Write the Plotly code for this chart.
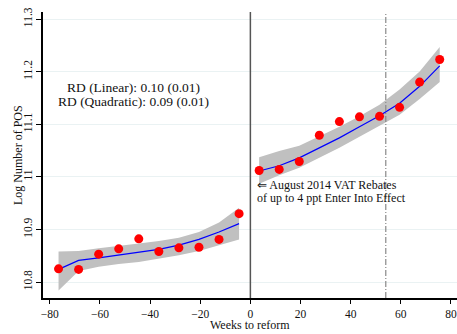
import plotly.graph_objects as go

# Binned means of log POS counts by weeks relative to the reform
weeks_pre = [-76.5, -68.5, -60.5, -52.5, -44.5, -36.5, -28.5, -20.5, -12.5, -4.5]
pos_pre = [10.825, 10.824, 10.853, 10.863, 10.882, 10.858, 10.865, 10.866, 10.881, 10.930]
fit_pre = [10.824, 10.841, 10.846, 10.851, 10.856, 10.862, 10.870, 10.881, 10.895, 10.911]
ci_lo_pre = [10.784, 10.821, 10.829, 10.834, 10.838, 10.844, 10.851, 10.859, 10.870, 10.881]
ci_hi_pre = [10.858, 10.859, 10.864, 10.868, 10.873, 10.878, 10.884, 10.895, 10.913, 10.941]

weeks_post = [3.5, 11.5, 19.5, 27.5, 35.5, 43.5, 51.5, 59.5, 67.5, 75.5]
pos_post = [11.012, 11.014, 11.029, 11.079, 11.105, 11.114, 11.115, 11.132, 11.180, 11.223]
fit_post = [11.011, 11.021, 11.036, 11.055, 11.074, 11.095, 11.116, 11.140, 11.172, 11.211]
ci_lo_post = [10.987, 11.003, 11.017, 11.036, 11.055, 11.076, 11.097, 11.118, 11.148, 11.180]
ci_hi_post = [11.037, 11.049, 11.059, 11.077, 11.095, 11.115, 11.137, 11.166, 11.200, 11.247]

x_ticks = [-80, -60, -40, -20, 0, 20, 40, 60, 80]
y_ticks = [10.8, 10.9, 11.0, 11.1, 11.2, 11.3]
y_tick_text = ["10.8", "10.9", "11", "11.1", "11.2", "11.3"]

reform_week = 0
marker_week = 54

FONT = "Liberation Serif"
BAND = "#c0c0c0"
TXT = "#111111"

fig = go.Figure()

# confidence bands
for wk, lo, hi in [(weeks_pre, ci_lo_pre, ci_hi_pre), (weeks_post, ci_lo_post, ci_hi_post)]:
    fig.add_trace(go.Scatter(
        x=wk + wk[::-1], y=hi + lo[::-1], fill="toself", fillcolor=BAND,
        line=dict(width=0), mode="lines", hoverinfo="skip", showlegend=False))

# fitted lines
for wk, fit in [(weeks_pre, fit_pre), (weeks_post, fit_post)]:
    fig.add_trace(go.Scatter(x=wk, y=fit, mode="lines",
                             line=dict(color="#0000ff", width=1.2), showlegend=False))

# binned means
for wk, pos in [(weeks_pre, pos_pre), (weeks_post, pos_post)]:
    fig.add_trace(go.Scatter(x=wk, y=pos, mode="markers",
                             marker=dict(color="#ff0000", size=9), showlegend=False))

fig.add_vline(x=reform_week, line=dict(color="#555555", width=1.5))
fig.add_vline(x=marker_week, line=dict(color="#888888", width=1.2, dash="6px,2px,1px,2px"))

fig.add_annotation(x=-46.5, y=11.170, xref="x", yref="y", text="RD (Linear): 0.10 (0.01)",
                   showarrow=False, borderpad=0, font=dict(family=FONT, size=13.5, color=TXT))
fig.add_annotation(x=-46.5, y=11.143, xref="x", yref="y", text="RD (Quadratic): 0.09 (0.01)",
                   showarrow=False, borderpad=0, font=dict(family=FONT, size=13.5, color=TXT))
fig.add_annotation(x=2.2, y=10.985, xref="x", yref="y", text="⇐ August 2014 VAT Rebates",
                   showarrow=False, borderpad=0, xanchor="left",
                   font=dict(family=FONT, size=12, color=TXT))
fig.add_annotation(x=2.2, y=10.959, xref="x", yref="y", text="of up to 4 ppt Enter Into Effect",
                   showarrow=False, borderpad=0, xanchor="left",
                   font=dict(family=FONT, size=12, color=TXT))

# axis titles
fig.add_annotation(x=0.5, y=-0.093, xref="paper", yref="paper", text="Weeks to reform",
                   showarrow=False, yanchor="middle", borderpad=0,
                   font=dict(family=FONT, size=12, color=TXT))
fig.add_annotation(x=-0.0604, y=0.5, xref="paper", yref="paper", text="Log Number of POS",
                   textangle=-90, showarrow=False, xanchor="center", yanchor="middle",
                   borderpad=0, font=dict(family=FONT, size=12, color=TXT))

fig.update_layout(
    width=457, height=334,
    margin=dict(l=43, r=0, t=12, b=36),
    paper_bgcolor="white", plot_bgcolor="white",
    font=dict(family=FONT, color=TXT),
    showlegend=False,
)
fig.update_xaxes(
    range=[-82.7, 82.4], tickvals=x_ticks, ticks="outside", ticklen=4, tickwidth=1.2,
    tickcolor="black", showline=True, linecolor="black", linewidth=1.5,
    showgrid=False, zeroline=False, tickfont=dict(size=11.5, family=FONT),
)
fig.update_yaxes(
    range=[10.7696, 11.3133], tickvals=y_ticks, ticktext=y_tick_text, tickangle=-90,
    ticks="outside", ticklen=5, tickwidth=1.2, tickcolor="black",
    showline=True, linecolor="black", linewidth=1.5,
    showgrid=True, gridcolor="#eaf2f3", gridwidth=1, zeroline=False,
    tickfont=dict(size=11.5, family=FONT),
)

fig.write_html("out.html")
